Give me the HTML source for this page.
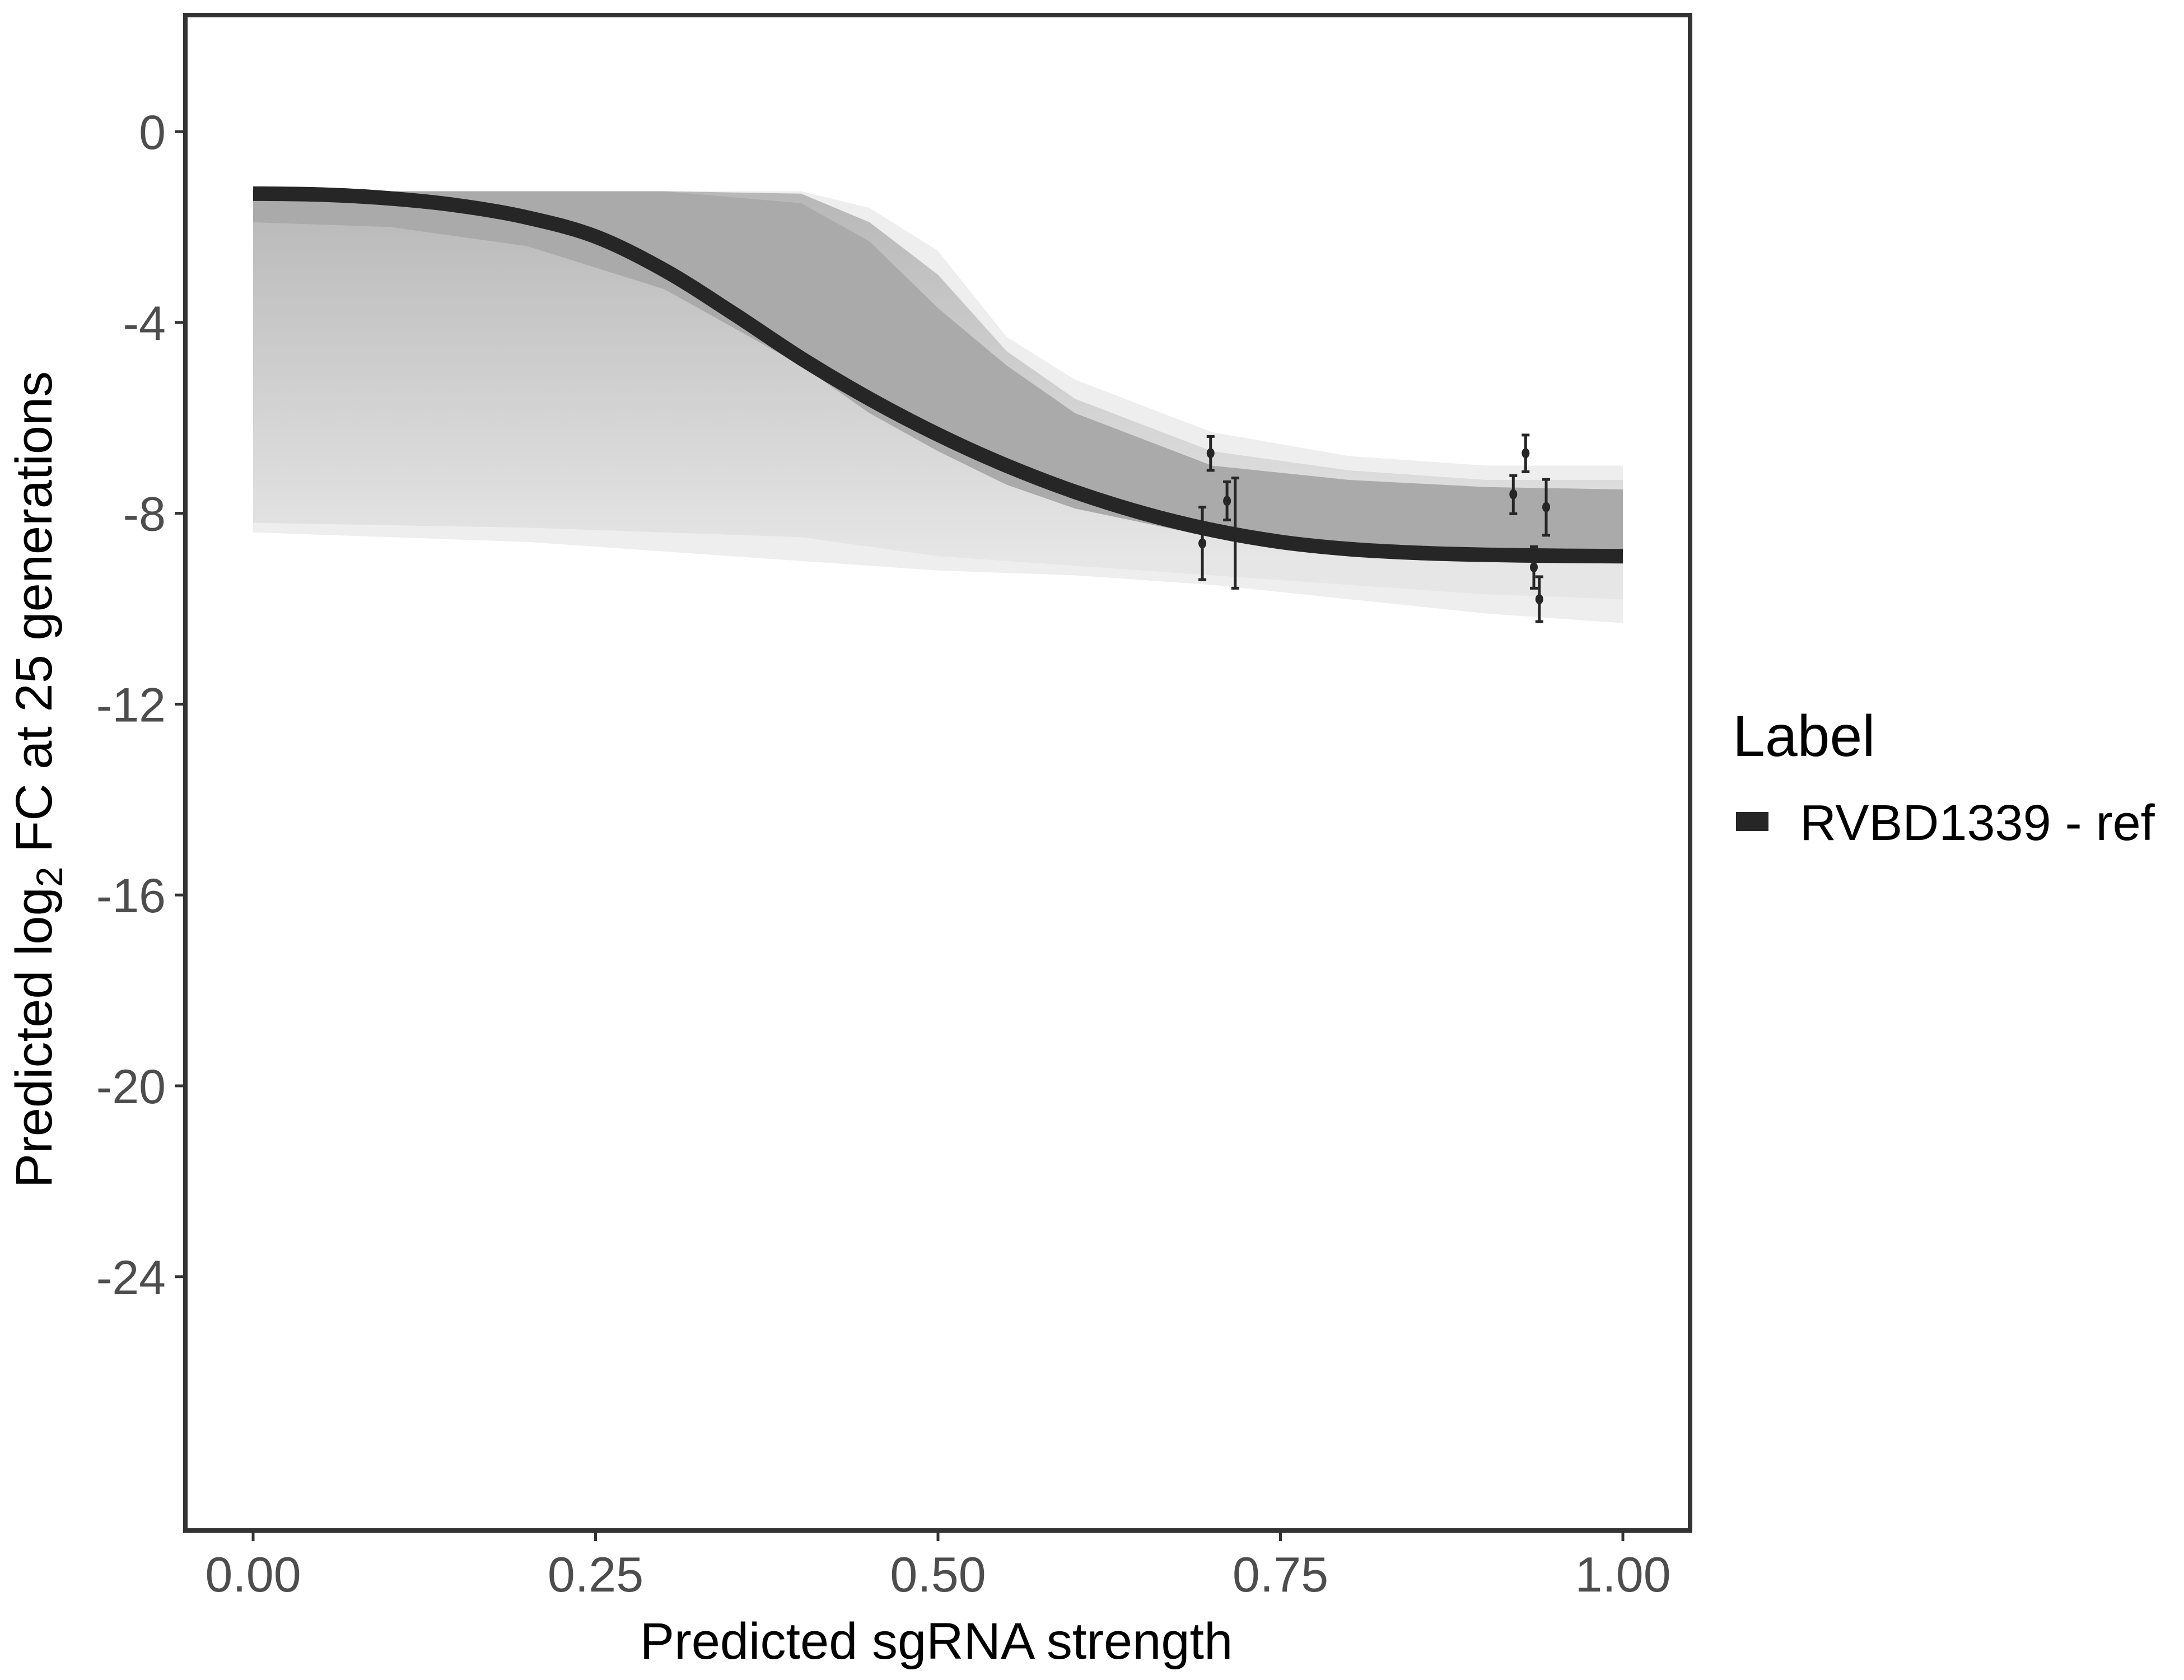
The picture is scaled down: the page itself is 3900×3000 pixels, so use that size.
<!DOCTYPE html>
<html><head><meta charset="utf-8"><style>
html,body{margin:0;padding:0;background:#fff;}
svg{display:block;font-family:"Liberation Sans",Arial,sans-serif;}
</style></head><body>
<svg id="chart" width="3900" height="3000" viewBox="0 0 3900 3000" xmlns="http://www.w3.org/2000/svg">
<defs>
<linearGradient id="midgrad" gradientUnits="userSpaceOnUse" x1="0" y1="350" x2="0" y2="1000">
<stop offset="0" stop-color="#b8b8b8"/><stop offset="1" stop-color="#e6e6e6"/>
</linearGradient>
</defs>
<g id="bands"></g>
<g id="mainline"></g>
<g id="points"></g>
<rect x="331" y="27" width="2687" height="2706" fill="none" stroke="#333" stroke-width="8"/>
<g id="yaxis"></g>
<g id="xaxis"></g>
<text x="1672" y="2962" font-size="92" text-anchor="middle" fill="#000">Predicted sgRNA strength</text>
<text transform="translate(92,1392) rotate(-90)" font-size="92" text-anchor="middle" fill="#000">Predicted  log<tspan font-size="66" dy="19">2</tspan><tspan dy="-19"> FC at 25 generations</tspan></text>
<text x="3094" y="1350" font-size="104" fill="#000">Label</text>
<rect x="3100" y="1450" width="58" height="34" fill="#262626"/>
<text x="3214" y="1500" font-size="90" fill="#000">RVBD1339 - ref</text>
</svg>
<script>
// data
const yTicks = [0, -4, -8, -12, -16, -20, -24];
const yTickLabels = ["0", "-4", "-8", "-12", "-16", "-20", "-24"];
const xTicks = [0, 0.25, 0.5, 0.75, 1];
const xTickLabels = ["0.00", "0.25", "0.50", "0.75", "1.00"];
const curveX = [0,0.05,0.1,0.15,0.2,0.25,0.3,0.35,0.4,0.45,0.5,0.55,0.6,0.65,0.7,0.75,0.8,0.85,0.9,0.95,1];
const curveY = [-1.3,-1.32,-1.4,-1.55,-1.8,-2.2,-2.9,-3.8,-4.75,-5.6,-6.35,-7.0,-7.55,-8.0,-8.35,-8.6,-8.75,-8.83,-8.87,-8.89,-8.9];
const bandX = [0,0.1,0.2,0.3,0.4,0.45,0.5,0.55,0.6,0.7,0.8,0.9,1];
const fringeUpper = [-1.25,-1.25,-1.25,-1.25,-1.25,-1.6,-2.5,-4.3,-5.2,-6.3,-6.8,-7.0,-7.0];
const fringeLower = [-8.4,-8.5,-8.6,-8.8,-9.0,-9.1,-9.2,-9.25,-9.3,-9.5,-9.8,-10.1,-10.3];
const midUpper = [-1.25,-1.25,-1.25,-1.25,-1.3,-1.9,-3.0,-4.6,-5.6,-6.7,-7.1,-7.3,-7.3];
const midLower = [-8.2,-8.25,-8.3,-8.4,-8.5,-8.7,-8.9,-9.0,-9.1,-9.3,-9.5,-9.7,-9.8];
const denseUpper = [-1.25,-1.25,-1.25,-1.25,-1.5,-2.3,-3.7,-4.9,-5.9,-7.0,-7.3,-7.45,-7.5];
const denseLower = [-1.9,-2.0,-2.4,-3.3,-4.9,-5.9,-6.7,-7.4,-7.9,-8.5,-8.8,-8.9,-8.9];
const ptX = [0.699,0.711,0.717,0.693,0.920,0.929,0.944,0.935,0.939];
const ptY = [-6.74,-7.74,-8.41,-8.63,-7.60,-6.74,-7.87,-9.13,-9.80];
const ptLo = [-7.10,-8.14,-9.57,-9.39,-8.01,-7.13,-8.46,-9.57,-10.27];
const ptHi = [-6.39,-7.34,-7.26,-7.87,-7.21,-6.36,-7.29,-8.70,-9.33];

const NS = "http://www.w3.org/2000/svg";
const xs = v => 452 + v * 2446;
const ys = v => 235 - v * 85.2;
function mk(tag, attrs, parent){const e=document.createElementNS(NS,tag);for(const k in attrs)e.setAttribute(k,attrs[k]);parent.appendChild(e);return e;}
function smooth(P){
  let d='M'+P[0][0].toFixed(1)+','+P[0][1].toFixed(1);
  for(let i=0;i<P.length-1;i++){
    const p0=P[Math.max(i-1,0)],p1=P[i],p2=P[i+1],p3=P[Math.min(i+2,P.length-1)];
    const c1=[p1[0]+(p2[0]-p0[0])/6,p1[1]+(p2[1]-p0[1])/6];
    const c2=[p2[0]-(p3[0]-p1[0])/6,p2[1]-(p3[1]-p1[1])/6];
    d+=' C'+c1[0].toFixed(1)+','+c1[1].toFixed(1)+' '+c2[0].toFixed(1)+','+c2[1].toFixed(1)+' '+p2[0].toFixed(1)+','+p2[1].toFixed(1);
  }
  return d;
}

// bands
const bands = document.getElementById('bands');
function band(up, lo, fill, name){
  let d = bandX.map((x,i)=>(i?'L':'M')+xs(x).toFixed(1)+','+ys(up[i]).toFixed(1)).join(' ');
  for(let i=bandX.length-1;i>=0;i--) d += ' L'+xs(bandX[i]).toFixed(1)+','+ys(lo[i]).toFixed(1);
  const p = mk('path',{d:d+' Z',fill:fill,'stroke-linejoin':'round'},bands);
  
  
}
band(fringeUpper, fringeLower, '#eeeeee', 'draws-fringe');
band(midUpper, midLower, 'url(#midgrad)', 'draws-middle');
band(denseUpper, denseLower, '#aaaaaa', 'draws-dense');

// main curve
const ml = document.getElementById('mainline');
const line = mk('path',{d:smooth(curveX.map((x,i)=>[xs(x),ys(curveY[i])])),fill:'none',stroke:'#262626','stroke-width':26},ml);



// points
const pg = document.getElementById('points');
ptX.forEach((x,i)=>{
  const g = mk('g',{},pg);
  
  
  const cx = xs(x);
  mk('line',{x1:cx,x2:cx,y1:ys(ptHi[i]),y2:ys(ptLo[i]),stroke:'#262626','stroke-width':5},g);
  mk('line',{x1:cx-7,x2:cx+7,y1:ys(ptHi[i]),y2:ys(ptHi[i]),stroke:'#262626','stroke-width':5},g);
  mk('line',{x1:cx-7,x2:cx+7,y1:ys(ptLo[i]),y2:ys(ptLo[i]),stroke:'#262626','stroke-width':5},g);
  mk('ellipse',{cx:cx,cy:ys(ptY[i]),rx:7,ry:9,fill:'#262626'},g);
});

// y axis
const ya = document.getElementById('yaxis');
yTicks.forEach((v,i)=>{
  const y = ys(v);
  const t = mk('line',{x1:312,x2:328,y1:y,y2:y,stroke:'#333','stroke-width':5},ya);
  
  
  const l = mk('text',{x:296,y:y+31,'font-size':86,'text-anchor':'end',fill:'#4d4d4d'},ya);
  l.textContent = yTickLabels[i];
  
  
});
// x axis
const xa = document.getElementById('xaxis');
xTicks.forEach((v,i)=>{
  const x = xs(v);
  const t = mk('line',{x1:x,x2:x,y1:2737,y2:2752,stroke:'#333','stroke-width':5},xa);
  
  
  const l = mk('text',{x:x,y:2842,'font-size':88,'text-anchor':'middle',fill:'#4d4d4d'},xa);
  l.textContent = xTickLabels[i];
  
  
});
</script>
</body></html>
